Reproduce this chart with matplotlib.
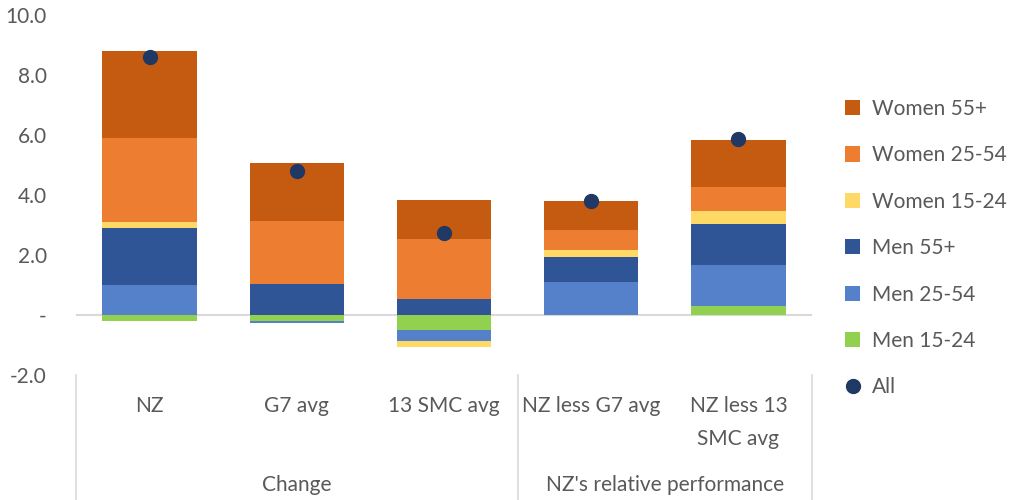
#!/usr/bin/env python3

import matplotlib
matplotlib.use('Agg')
import matplotlib.pyplot as plt
import matplotlib.transforms as mtransforms
from matplotlib.lines import Line2D
import numpy as np

plt.rcParams['font.family'] = ['Lato', 'DejaVu Sans']

categories = ['NZ', 'G7 avg', '13 SMC avg', 'NZ less G7 avg', 'NZ less 13\nSMC avg']
groups = ['Change', "NZ's relative performance"]

# contributions to the change, percentage points
men_15_24 = [-0.20, -0.20, -0.50, 0.00, 0.30]
men_25_54 = [1.00, -0.05, -0.36, 1.10, 1.37]
men_55 = [1.90, 1.02, 0.55, 0.84, 1.35]
women_15_24 = [0.19, 0.00, -0.22, 0.22, 0.44]
women_25_54 = [2.80, 2.10, 1.98, 0.67, 0.81]
women_55 = [2.91, 1.94, 1.31, 0.97, 1.57]
all_workers = [8.60, 4.80, 2.74, 3.80, 5.86]

series = [
    ('Men 15-24', men_15_24, '#92D050'),
    ('Men 25-54', men_25_54, '#5580CA'),
    ('Men 55+', men_55, '#2F5597'),
    ('Women 15-24', women_15_24, '#FFD966'),
    ('Women 25-54', women_25_54, '#ED7D31'),
    ('Women 55+', women_55, '#C55A11'),
]

grey = '#595959'
line_grey = '#d9d9d9'
fs = 15

fig = plt.figure(figsize=(10.16, 5.0), dpi=100)
ax = fig.add_axes([76 / 1016, 0.25, 736 / 1016, 0.72])

x = np.arange(len(categories))
pos_bottom = np.zeros(len(x))
neg_bottom = np.zeros(len(x))
handles = []
for label, vals, color in series:
    vals = np.array(vals)
    bottom = np.where(vals >= 0, pos_bottom, neg_bottom)
    b = ax.bar(x, vals, 0.64, bottom=bottom, color=color, label=label, zorder=2)
    handles.append(b)
    pos_bottom += np.clip(vals, 0, None)
    neg_bottom += np.clip(vals, None, 0)

dots, = ax.plot(x, all_workers, 'o', color='#203864', ms=10, label='All', zorder=3)

ax.axhline(0, color=line_grey, lw=1.5, zorder=1)
ax.set_xlim(-0.5, 4.5)
ax.set_ylim(-2, 10)
ax.set_yticks([-2, 0, 2, 4, 6, 8, 10])
ax.set_yticklabels(['-2.0', '-', '2.0', '4.0', '6.0', '8.0', '10.0'])
ax.set_xticks(x)
ax.set_xticklabels(categories, linespacing=1.85)
ax.tick_params(axis='both', length=0, labelsize=fs, colors=grey)
ax.tick_params(axis='x', pad=15)
ax.tick_params(axis='y', pad=21)
for s in ax.spines.values():
    s.set_visible(False)

# group separators and group labels below the category labels
trans = mtransforms.blended_transform_factory(ax.transData, ax.transAxes)
for xs in [-0.5, 2.5, 4.5]:
    ax.add_line(Line2D([xs, xs], [0, -0.35], transform=trans, color=line_grey,
                       lw=1.2, clip_on=False))
ax.text(1, -0.305, groups[0], transform=trans, ha='center', va='center',
        fontsize=fs, color=grey)
ax.text(3.5, -0.305, groups[1], transform=trans, ha='center', va='center',
        fontsize=fs, color=grey)

legend_handles = handles[::-1] + [dots]
legend_labels = [s[0] for s in series][::-1] + ['All']
leg = fig.legend(legend_handles, legend_labels, loc='upper left',
                 bbox_to_anchor=(0.813, 0.84), frameon=False, fontsize=fs,
                 labelcolor=grey, handlelength=0.75, handleheight=0.75,
                 handletextpad=0.55, labelspacing=1.27)

fig.savefig('out.png', dpi=100)
